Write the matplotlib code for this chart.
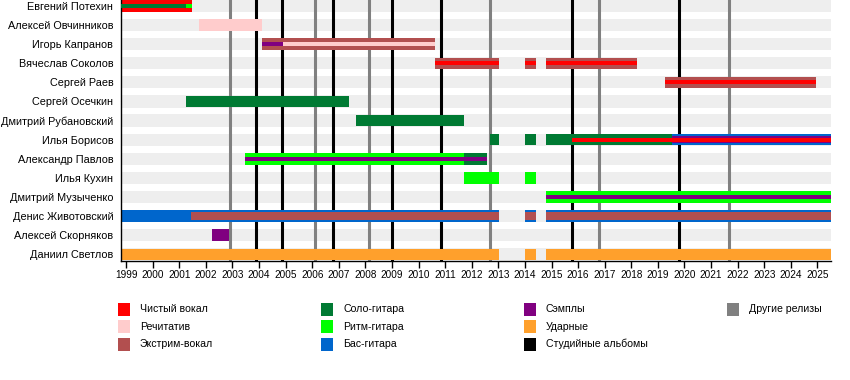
import matplotlib

matplotlib.use("Agg")
import matplotlib.pyplot as plt
from matplotlib.patches import Rectangle

members = [
    "Евгений Потехин",
    "Алексей Овчинников",
    "Игорь Капранов",
    "Вячеслав Соколов",
    "Сергей Раев",
    "Сергей Осечкин",
    "Дмитрий Рубановский",
    "Илья Борисов",
    "Александр Павлов",
    "Илья Кухин",
    "Дмитрий Музыченко",
    "Денис Животовский",
    "Алексей Скорняков",
    "Даниил Светлов",
]

roles = ["Чистый вокал", "Речитатив", "Экстрим-вокал", "Соло-гитара",
         "Ритм-гитара", "Бас-гитара", "Сэмплы", "Ударные"]
role_colors = ["#ff0000", "#ffcccc", "#b24f4f", "#007a33",
               "#00ff00", "#0066cc", "#800080", "#ffa02c"]

# main role bars: (member, from, till, role)
main_bars = [
    ("Евгений Потехин", 1998.81, 2001.47, "Чистый вокал"),
    ("Алексей Овчинников", 2001.75, 2004.13, "Речитатив"),
    ("Игорь Капранов", 2004.12, 2010.62, "Экстрим-вокал"),
    ("Вячеслав Соколов", 2010.62, 2013.03, "Экстрим-вокал"),
    ("Вячеслав Соколов", 2014.02, 2014.42, "Экстрим-вокал"),
    ("Вячеслав Соколов", 2014.80, 2018.23, "Экстрим-вокал"),
    ("Сергей Раев", 2019.25, 2024.94, "Экстрим-вокал"),
    ("Сергей Осечкин", 2001.24, 2007.39, "Соло-гитара"),
    ("Дмитрий Рубановский", 2007.65, 2011.69, "Соло-гитара"),
    ("Илья Борисов", 2012.69, 2013.03, "Соло-гитара"),
    ("Илья Борисов", 2014.02, 2014.42, "Соло-гитара"),
    ("Илья Борисов", 2014.80, 2019.52, "Соло-гитара"),
    ("Илья Борисов", 2019.52, 2025.51, "Бас-гитара"),
    ("Александр Павлов", 2003.48, 2011.69, "Ритм-гитара"),
    ("Александр Павлов", 2011.69, 2012.56, "Соло-гитара"),
    ("Илья Кухин", 2011.69, 2013.03, "Ритм-гитара"),
    ("Илья Кухин", 2014.02, 2014.42, "Ритм-гитара"),
    ("Дмитрий Музыченко", 2014.80, 2025.51, "Ритм-гитара"),
    ("Денис Животовский", 1998.81, 2013.03, "Бас-гитара"),
    ("Денис Животовский", 2014.02, 2014.42, "Бас-гитара"),
    ("Денис Животовский", 2014.80, 2025.51, "Бас-гитара"),
    ("Алексей Скорняков", 2002.22, 2002.89, "Сэмплы"),
    ("Даниил Светлов", 1998.81, 2013.03, "Ударные"),
    ("Даниил Светлов", 2014.02, 2014.42, "Ударные"),
    ("Даниил Светлов", 2014.80, 2025.51, "Ударные"),
]

# secondary role bars drawn thinner on top: (member, from, till, role, height)
inner_bars = [
    ("Евгений Потехин", 1998.81, 2001.26, "Соло-гитара", 0.22),
    ("Евгений Потехин", 2001.26, 2001.47, "Ритм-гитара", 0.22),
    ("Игорь Капранов", 2004.12, 2004.90, "Сэмплы", 0.22),
    ("Игорь Капранов", 2004.90, 2010.62, "Речитатив", 0.22),
    ("Вячеслав Соколов", 2010.62, 2013.03, "Чистый вокал", 0.22),
    ("Вячеслав Соколов", 2014.02, 2014.42, "Чистый вокал", 0.22),
    ("Вячеслав Соколов", 2014.80, 2018.23, "Чистый вокал", 0.22),
    ("Сергей Раев", 2019.25, 2024.94, "Чистый вокал", 0.22),
    ("Илья Борисов", 2019.52, 2025.51, "Сэмплы", 0.4),
    ("Илья Борисов", 2015.76, 2025.51, "Чистый вокал", 0.2),
    ("Александр Павлов", 2003.48, 2012.56, "Сэмплы", 0.22),
    ("Дмитрий Музыченко", 2014.80, 2025.51, "Сэмплы", 0.22),
    ("Денис Животовский", 2001.44, 2013.03, "Экстрим-вокал", 0.44),
    ("Денис Животовский", 2014.02, 2014.42, "Экстрим-вокал", 0.44),
    ("Денис Животовский", 2014.80, 2025.51, "Экстрим-вокал", 0.44),
]

studio_albums = [2003.89, 2004.87, 2006.80, 2008.99, 2010.83, 2015.76, 2019.81]
other_releases = [2002.91, 2006.11, 2008.15, 2012.69, 2016.80, 2021.69]
years = list(range(1999, 2026))

legend_items = roles + ["Студийные альбомы", "Другие релизы"]
legend_colors = role_colors + ["#000000", "#808080"]

color_of = dict(zip(roles, role_colors))
row_of = {name: i for i, name in enumerate(members)}

W, H = 850, 380
fig = plt.figure(figsize=(W / 100, H / 100), dpi=100)
ax = fig.add_axes([121 / W, 1 - 261 / H, 710 / W, 261 / H])
ax.set_xlim(1998.81, 2025.51)
ax.set_ylim(13.35, -0.31)

x0, x1 = ax.get_xlim()
for i in range(len(members)):
    ax.add_patch(Rectangle((x0, i - 0.32), x1 - x0, 0.64, color="#eeeeee", lw=0, zorder=0))

for x in other_releases:
    ax.axvline(x, color="#808080", lw=2.2, zorder=1)
for x in studio_albums:
    ax.axvline(x, color="#000000", lw=2.2, zorder=1)

for name, start, end, role in main_bars:
    ax.add_patch(Rectangle((start, row_of[name] - 0.3), end - start, 0.6,
                           color=color_of[role], lw=0, zorder=2))
for name, start, end, role, h in inner_bars:
    ax.add_patch(Rectangle((start, row_of[name] - h / 2), end - start, h,
                           color=color_of[role], lw=0, zorder=3))

sans = ["Liberation Sans", "DejaVu Sans"]
ax.set_yticks(range(len(members)))
ax.set_yticklabels(members, family=sans, fontsize=7.8)
ax.tick_params(axis="y", length=0, pad=5.5)
ax.set_xticks(years)
ax.set_xticklabels([str(y) for y in years], family=sans, fontsize=7.2)
ax.tick_params(axis="x", length=5, width=1, pad=1.5)
for side in ["top", "right"]:
    ax.spines[side].set_visible(False)
ax.spines["left"].set_linewidth(1)
ax.spines["bottom"].set_linewidth(1)

# legend laid out in four columns of three
for k, (label, col) in enumerate(zip(legend_items, legend_colors)):
    c, r = divmod(k, 3)
    sx = 118 + c * 203
    sy = 309 + r * 17.5
    fig.patches.append(Rectangle((sx / W, 1 - (sy + 6.5) / H), 12 / W, 13 / H,
                                 color=col, lw=0, transform=fig.transFigure))
    fig.text((sx + 22) / W, 1 - sy / H, label, family=sans, fontsize=7.6, va="center")

fig.savefig("out.png", dpi=100)
